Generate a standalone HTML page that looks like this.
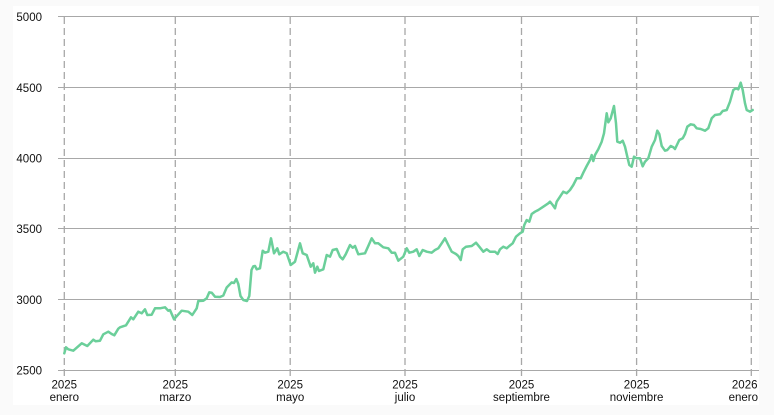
<!DOCTYPE html>
<html><head><meta charset="utf-8"><style>
html,body{margin:0;padding:0;background:#fafafa;}
svg{display:block;}
text{font-family:"Liberation Sans",Arial,sans-serif;font-size:11.5px;fill:#111;}
</style></head><body>
<svg width="774" height="415" viewBox="0 0 774 415" xmlns="http://www.w3.org/2000/svg">
<rect x="13" y="6" width="746" height="399" fill="#ffffff"/>
<g stroke="#a8a8a8" stroke-width="1" shape-rendering="crispEdges">
<line x1="58" y1="16.5" x2="759" y2="16.5"/>
<line x1="58" y1="87.5" x2="759" y2="87.5"/>
<line x1="58" y1="158.5" x2="759" y2="158.5"/>
<line x1="58" y1="228.5" x2="759" y2="228.5"/>
<line x1="58" y1="299.5" x2="759" y2="299.5"/>
<line x1="58" y1="370.5" x2="759" y2="370.5"/>
</g>
<g stroke="#a8a8a8" stroke-width="1.3" stroke-dasharray="7,4">
<line x1="64.3" y1="17" x2="64.3" y2="378"/>
<line x1="175.3" y1="17" x2="175.3" y2="378"/>
<line x1="290.2" y1="17" x2="290.2" y2="378"/>
<line x1="405" y1="17" x2="405" y2="378"/>
<line x1="521.5" y1="17" x2="521.5" y2="378"/>
<line x1="636.6" y1="17" x2="636.6" y2="378"/>
<line x1="751.3" y1="17" x2="751.3" y2="378"/>
</g>
<g text-anchor="end">
<text x="42" y="21">5000</text>
<text x="42" y="92">4500</text>
<text x="42" y="162.5">4000</text>
<text x="42" y="233">3500</text>
<text x="42" y="304">3000</text>
<text x="42" y="374.5">2500</text>
</g>
<g text-anchor="middle">
<text x="64.3" y="388.5">2025</text><text x="64.3" y="401">enero</text>
<text x="175.3" y="388.5">2025</text><text x="175.3" y="401">marzo</text>
<text x="290.2" y="388.5">2025</text><text x="290.2" y="401">mayo</text>
<text x="405" y="388.5">2025</text><text x="405" y="401">julio</text>
<text x="521.5" y="388.5">2025</text><text x="521.5" y="401">septiembre</text>
<text x="636.6" y="388.5">2025</text><text x="636.6" y="401">noviembre</text>
</g>
<g text-anchor="end">
<text x="757.5" y="388.5">2026</text><text x="758" y="401">enero</text>
</g>
<polyline fill="none" stroke="#6bcf9a" stroke-width="2.5" stroke-linejoin="round" stroke-linecap="round" points="
64.3,353.3 66,347.3 68.3,349.3 73.3,350.7 81.7,343.3 87.3,346 93.3,339.7 95.7,341.3 100,340.7 103.3,334.3 108.3,331.7 111.7,334 114.3,335.3 118.3,328.7 120,327.3 126,325.3 131,317.3 133.3,319.3 138.3,311.7 141.7,313.3 145,309.3 147.3,315 151.7,314.7 155,308.3 160,308.3 165,307.3 168.3,310.7 170,310 174,319.3 175.7,317.3 181.7,310.7 188.3,311.7 192.3,315 196.7,308.3 198.3,301 203.3,300.7 206.7,298.3 209.3,292.3 211.7,292.7 215,296.7 220,297 223.3,295.5 226.7,287.5 231.7,282.4 234,283 236.3,279 238.3,284 240.5,296 243.3,300 247,301 249.3,296 251.5,270 253.3,266.3 255,266 256.7,269.3 260,268.3 262.7,250.7 265,252.7 268.3,251.7 271,238.3 274,253.3 277.3,248.3 279.3,254.3 283.3,251.7 286.7,253.3 290.7,265 295,261.7 300,243.3 302.7,253.3 306.7,255 310.7,266.7 313.3,263.3 315,272.7 317.3,266.7 319,271 323.3,269.3 326.7,255 330,256.7 332.7,250 336.7,249 340,256.7 342.7,259.3 345.7,254.3 350,245 352.7,247.7 355,246 358.3,254.3 365,253.3 368.3,246 371.7,238.3 375,243.3 378.3,243.3 383.3,247.3 388.3,248.3 391.7,252.7 395,252.7 398.3,260.7 403.3,256.7 406.7,248.3 409.3,252.7 413.3,251.7 416.7,249.3 419.3,256 422.7,250 426.7,251.7 431.7,252.7 435,250 438.3,248.3 441.7,243.3 445,238.3 448.3,245 451.7,251.7 456,254 458.3,256 460.7,260 462.7,249.3 466,246.7 471.7,246 476,242.7 479.3,246.7 483.3,251.7 486.7,249.3 490,251.7 495,251.7 497.7,254 500,249.3 503.3,246.7 506.7,248.3 509.3,246 512.7,243.3 516,236.7 520,233.3 522.7,231.7 524.3,225 526.7,220 529.3,221.7 531.7,214 535,211.7 538.3,210 543.3,206.7 548.3,203.3 550,201.7 552.7,205 555,208.3 556.7,201.7 560,196.7 563.3,191.7 566.7,193.3 570,190 573.3,185 576.7,178.3 580.7,178.3 583.3,172.7 586.7,166 590,160 591.7,155 593.3,161 595,155 598.3,149.3 601.7,141.7 604,133.3 606.7,113.3 608.3,122.3 610.7,118.3 614,106 616,123.3 617.3,141.7 620,142.7 622.7,140.7 625,146.7 627.3,156.7 629.3,165 631.7,166.7 634,156.7 636.7,158.3 640,158.3 642.7,166.3 645,161.7 648.3,158.3 651.7,146.7 655,140 657.3,130.7 659.3,134 661.7,146 665,150.7 667.3,150 670.7,146 673.3,147.3 675,149 679.3,140 682.7,138.3 685,134 687.3,126.7 690.7,124.3 694,125 696.7,128.3 700.7,129 705,130.7 708.3,128.3 711.7,118.3 715,115 720,114.3 722.7,111 726.7,110 730,101.7 733.3,90 736,88.3 738.3,89.3 740.7,82.7 742.7,90 745,103.3 746.7,110 750,111.7 752.7,110"/>
</svg>
</body></html>
